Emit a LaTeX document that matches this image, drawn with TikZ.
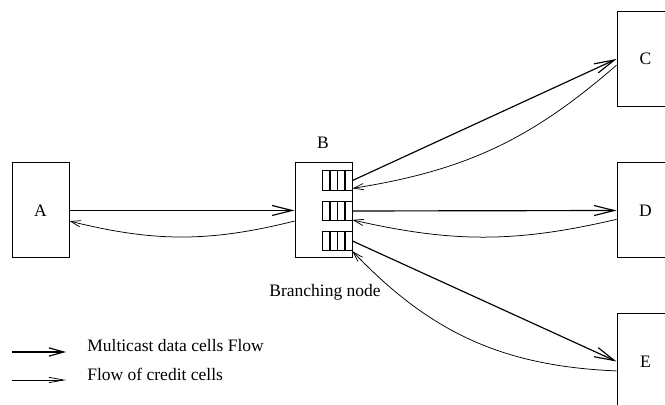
\documentclass[tikz,border=0pt]{standalone}
\usepackage{fontspec}
\setmainfont{Liberation Serif}
\usetikzlibrary{arrows.meta}
\begin{document}
\begin{tikzpicture}[x=0.6pt,y=-0.6pt,
  box/.style={draw,line width=0.6pt,minimum width=34.2pt,minimum height=57pt,inner sep=0pt,font=\fontsize{10.5}{12}\selectfont},
  queue/.style={draw,line width=0.6pt,minimum width=18pt,minimum height=11.7pt,inner sep=0pt},
  lbl/.style={font=\fontsize{10.5}{12}\selectfont,inner sep=0pt},
  data/.style={line width=0.7pt,-{Straight Barb[length=12pt,width=6pt,line width=0.7pt]}},
  credit/.style={line width=0.45pt,-{Straight Barb[length=6pt,width=3.8pt,line width=0.45pt]}},
  ldata/.style={line width=0.7pt,-{Straight Barb[length=9pt,width=5pt,line width=0.7pt]}},
  lcredit/.style={line width=0.45pt,-{Straight Barb[length=9pt,width=3.2pt,line width=0.45pt]}}]
\useasboundingbox (0,0) rectangle (665,405);
\begin{scope}
\clip (0,0) rectangle (665,405);
\node[box] (A) at (40.5,210.5) {A};
\node[box] (B) at (323.5,210.5) {};
\node[box] (C) at (645.5,59) {C};
\node[box] (D) at (645.5,210.5) {D};
\node[box] (E) at (645.5,361.5) {E};
\end{scope}
% queues
\foreach \q/\y in {q1/180.5,q2/211,q3/241}{
  \node[queue] (\q) at (337,\y) {};
  \foreach \xx in {330,337.5,345}{
    \draw[line width=0.7pt] (\xx,\y) ++(0,-9.75) -- ++(0,19.5);
  }
}
\node[lbl] (Blabel) at (323,143) {B};
\node[lbl] (Bn) at (325,292) {Branching node};
% data flows
\draw[data] (A.east) -- (B.west);
\draw[data] (q1.east) -- (C.west);
\draw[data] (q2.east) -- (D.west);
\draw[data] (q3.east) -- (E.west);
% credit flows
\draw[credit] (B.200) to[bend left=14] (A.-20);
\draw[credit] (C.192) to[bend left=16] (q1.-27);
\draw[credit] (D.197) to[bend left=13] (q2.-30);
\draw[credit] (E.198) to[bend left=22] (q3.south east);
% legend
\coordinate (l1s) at (12,352);
\coordinate (l1e) at (66,352);
\coordinate (l2s) at (12,380);
\coordinate (l2e) at (66,380);
\draw[ldata] (l1s) -- (l1e);
\draw[lcredit] (l2s) -- (l2e);
\node[lbl,anchor=base west] (t1) at (87,352) {Multicast data cells Flow};
\node[lbl,anchor=base west] (t2) at (87,381) {Flow of credit cells};
\end{tikzpicture}
\end{document}
